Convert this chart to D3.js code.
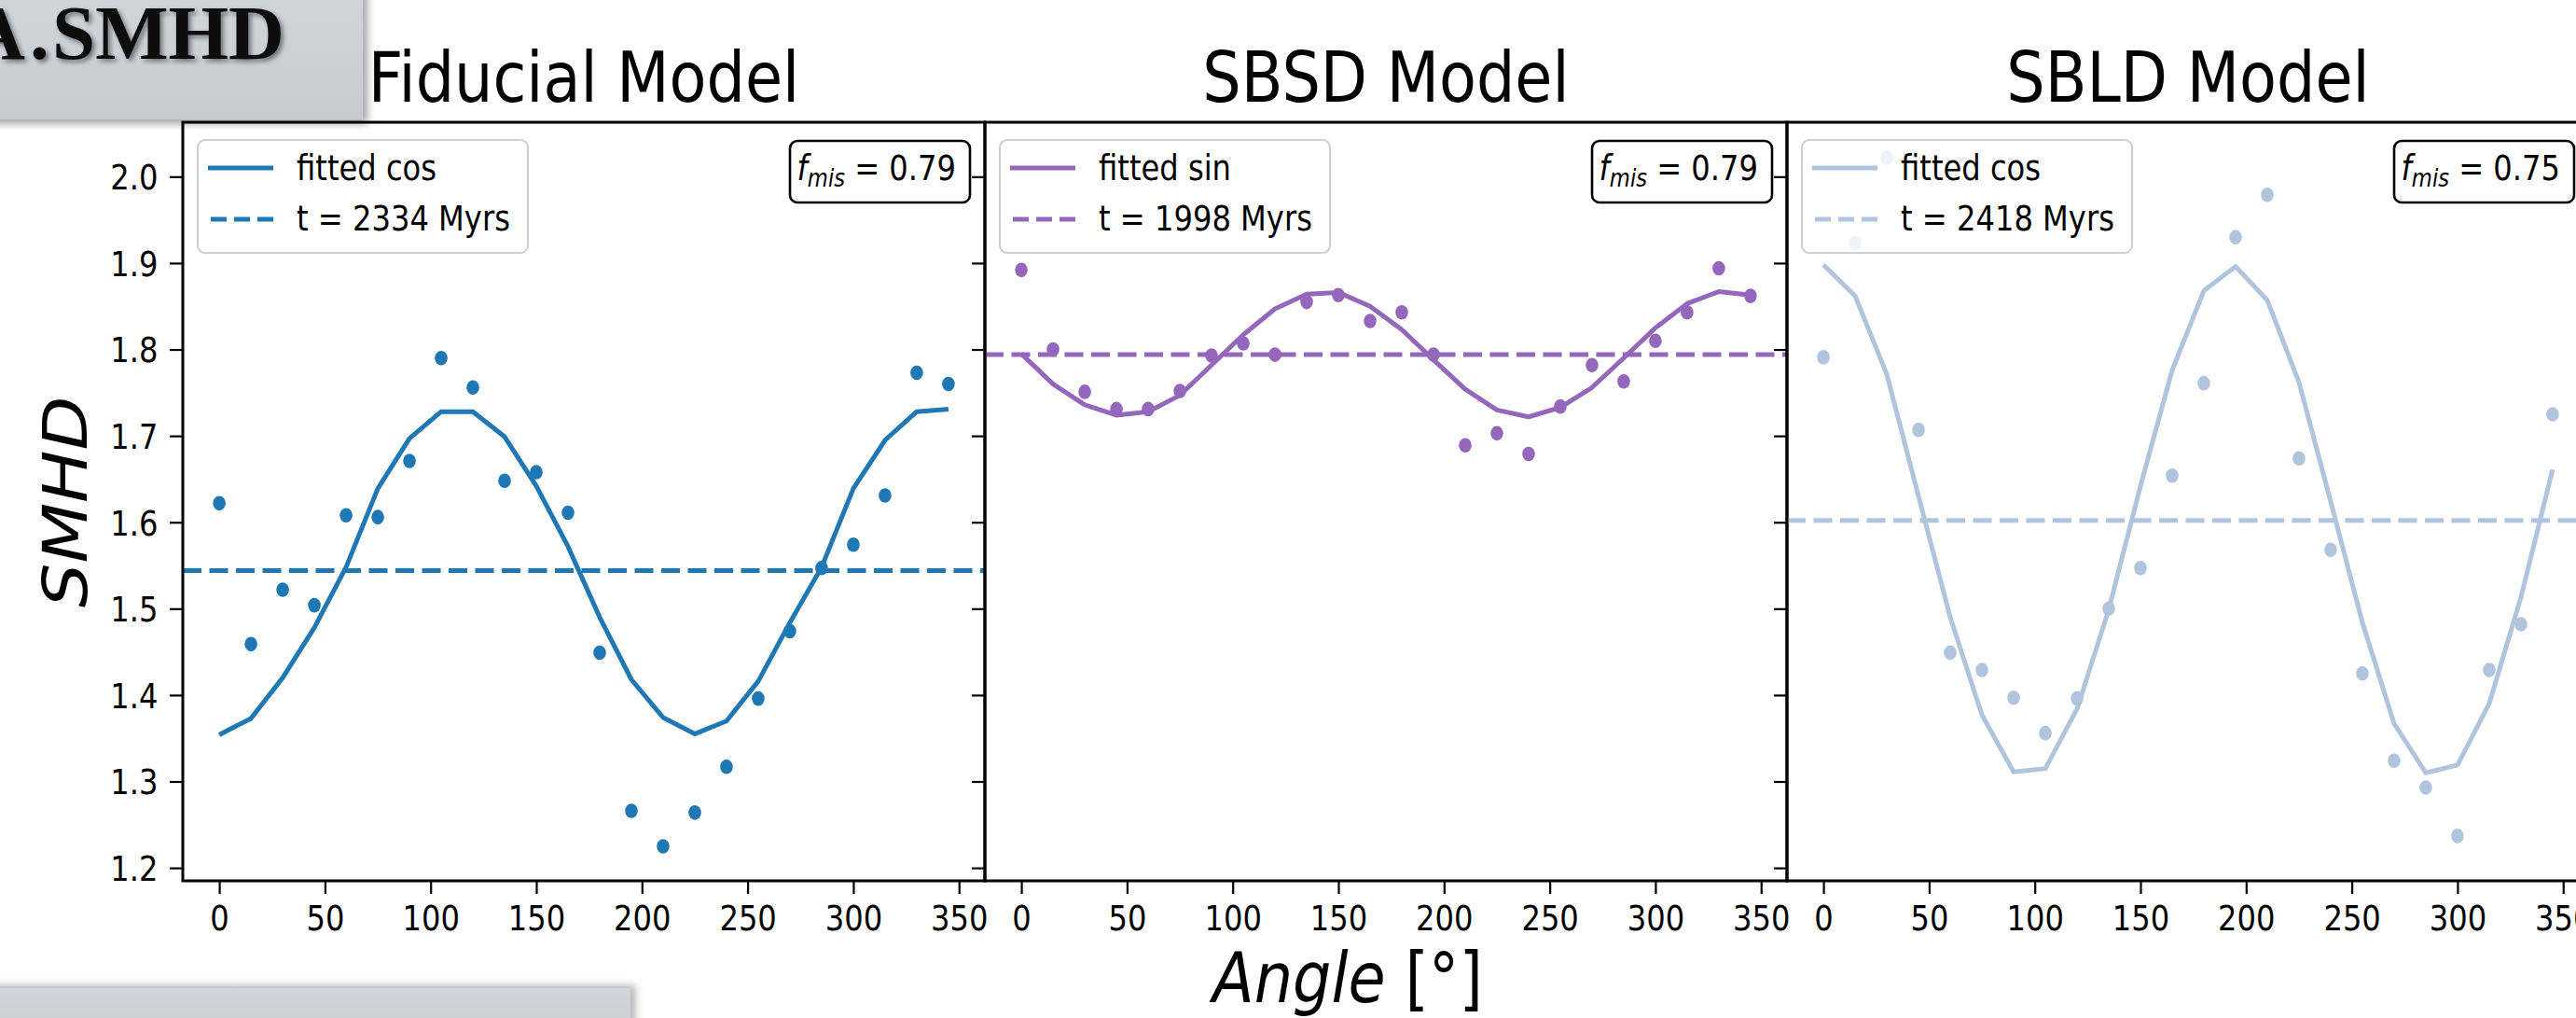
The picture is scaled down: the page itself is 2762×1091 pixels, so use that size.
<!DOCTYPE html>
<html>
<head>
<meta charset="utf-8">
<script src="https://cdn.jsdelivr.net/npm/d3@7"></script>
<style>
  html, body { margin: 0; padding: 0; background: #ffffff; }
  svg { display: block; }
</style>
</head>
<body>
<script>
// ---- data -------------------------------------------------------------
const angles = [0, 15, 30, 45, 60, 75, 90, 105, 120, 135, 150, 165,
                180, 195, 210, 225, 240, 255, 270, 285, 300, 315, 330, 345];

const panelTitles = ["Fiducial Model", "SBSD Model", "SBLD Model"];
const fitLabels   = ["fitted cos", "fitted sin", "fitted cos"];
const timeLabels  = ["t = 2334 Myrs", "t = 1998 Myrs", "t = 2418 Myrs"];
const fmisValues  = ["0.79", "0.79", "0.75"];
const meanLevels  = [1.544, 1.794, 1.602];

const fiducialPoints = [1.622, 1.459, 1.522, 1.504, 1.608, 1.606, 1.671, 1.790,
                        1.756, 1.648, 1.658, 1.611, 1.449, 1.266, 1.225, 1.264,
                        1.317, 1.396, 1.474, 1.547, 1.574, 1.631, 1.773, 1.760];
const fiducialFit    = [1.354, 1.373, 1.420, 1.478, 1.548, 1.639, 1.697, 1.728,
                        1.728, 1.699, 1.642, 1.572, 1.490, 1.418, 1.374, 1.355,
                        1.370, 1.416, 1.484, 1.548, 1.639, 1.695, 1.728, 1.731];

const sbsdPoints = [1.892, 1.800, 1.751, 1.731, 1.731, 1.752, 1.793, 1.807,
                    1.794, 1.855, 1.863, 1.833, 1.843, 1.794, 1.689, 1.703,
                    1.679, 1.734, 1.782, 1.763, 1.810, 1.843, 1.894, 1.862];
const sbsdFit    = [1.795, 1.760, 1.736, 1.724, 1.728, 1.747, 1.782, 1.817,
                    1.847, 1.864, 1.866, 1.850, 1.823, 1.788, 1.754, 1.730,
                    1.722, 1.733, 1.756, 1.790, 1.825, 1.853, 1.867, 1.863];

const sbldPoints = [1.791, 1.923, 2.022, 1.707, 1.449, 1.429, 1.397, 1.356,
                    1.396, 1.500, 1.547, 1.654, 1.761, 1.930, 1.979, 1.674,
                    1.568, 1.425, 1.324, 1.293, 1.237, 1.429, 1.482, 1.725];
const sbldFit    = [1.898, 1.862, 1.771, 1.630, 1.490, 1.377, 1.311, 1.315,
                    1.384, 1.499, 1.642, 1.776, 1.868, 1.896, 1.857, 1.762,
                    1.624, 1.484, 1.367, 1.310, 1.319, 1.390, 1.513, 1.661];

const xTicks = [0, 50, 100, 150, 200, 250, 300, 350];
const yTicks = [1.2, 1.3, 1.4, 1.5, 1.6, 1.7, 1.8, 1.9, 2.0];
const yTickLabels = ["1.2", "1.3", "1.4", "1.5", "1.6", "1.7", "1.8", "1.9", "2.0"];

const seriesPoints = [fiducialPoints, sbsdPoints, sbldPoints];
const seriesFit    = [fiducialFit, sbsdFit, sbldFit];
const seriesColors = ["#1f77b4", "#9467bd", "#b0c4de"];

// ---- layout -----------------------------------------------------------
const W = 2762, H = 1091;
const panelLeft = [196, 1056, 1916];
const panelW = 860;
const plotTop = 131, plotBottom = 944;
const SX = 0.87;               // horizontal squeeze applied to figure text
const FONT = "'DejaVu Sans', sans-serif";
const LW = 5;                  // line width of curves and mean levels
const DASH = "20,8.5";

const svg = d3.select("body").append("svg")
  .attr("width", W).attr("height", H)
  .attr("viewBox", `0 0 ${W} ${H}`);

const defs = svg.append("defs");
const shadow = defs.append("filter").attr("id", "boxShadow")
  .attr("x", "-10%").attr("y", "-30%").attr("width", "130%").attr("height", "160%");
shadow.append("feDropShadow").attr("dx", 5).attr("dy", 5)
  .attr("stdDeviation", 4).attr("flood-color", "#000").attr("flood-opacity", 0.35);
const shadowUp = defs.append("filter").attr("id", "boxShadowUp")
  .attr("x", "-10%").attr("y", "-60%").attr("width", "130%").attr("height", "200%");
shadowUp.append("feDropShadow").attr("dx", 5).attr("dy", -3)
  .attr("stdDeviation", 4).attr("flood-color", "#000").attr("flood-opacity", 0.3);
const textShadow = defs.append("filter").attr("id", "textShadow")
  .attr("x", "-10%").attr("y", "-20%").attr("width", "120%").attr("height", "150%");
textShadow.append("feDropShadow").attr("dx", 3).attr("dy", 3)
  .attr("stdDeviation", 2.5).attr("flood-color", "#000").attr("flood-opacity", 0.45);
const boxGrad = defs.append("linearGradient").attr("id", "boxGrad")
  .attr("x1", 0).attr("y1", 0).attr("x2", 0).attr("y2", 1);
boxGrad.append("stop").attr("offset", "0%").attr("stop-color", "#d2d6dc");
boxGrad.append("stop").attr("offset", "100%").attr("stop-color", "#c6cbd2");

// squeezed text helper: a group carrying the position and the squeeze
function sText(parent, x, y, opts = {}) {
  const g = parent.append("g")
    .attr("transform", `translate(${x},${y}) scale(${SX},1)` + (opts.rotate ? ` rotate(${opts.rotate})` : ""));
  return g.append("text")
    .attr("font-family", FONT)
    .attr("font-size", opts.size || 37)
    .attr("text-anchor", opts.anchor || "start")
    .attr("fill", "#000");
}

const y = d3.scaleLinear().domain([1.185, 2.063]).range([plotBottom, plotTop]);

panelLeft.forEach((L, i) => {
  const R = L + panelW;
  const color = seriesColors[i];
  const x = d3.scaleLinear().domain([-17.25, 362.25]).range([L, R]);
  const g = svg.append("g");

  // clip for the plotting area
  const clipId = `clip${i}`;
  defs.append("clipPath").attr("id", clipId)
    .append("rect").attr("x", L).attr("y", plotTop).attr("width", panelW).attr("height", plotBottom - plotTop);
  const plot = g.append("g").attr("clip-path", `url(#${clipId})`);

  // mean level (dashed)
  plot.append("line")
    .attr("x1", L).attr("x2", R)
    .attr("y1", y(meanLevels[i])).attr("y2", y(meanLevels[i]))
    .attr("stroke", color).attr("stroke-width", LW)
    .attr("stroke-dasharray", DASH);

  // fitted curve
  const line = d3.line().x((d, k) => x(angles[k])).y(d => y(d));
  plot.append("path").datum(seriesFit[i])
    .attr("d", line).attr("fill", "none")
    .attr("stroke", color).attr("stroke-width", LW)
    .attr("stroke-linejoin", "round");

  // measured points
  plot.selectAll("ellipse.pt").data(seriesPoints[i]).enter().append("ellipse")
    .attr("class", "pt")
    .attr("cx", (d, k) => x(angles[k])).attr("cy", d => y(d))
    .attr("rx", 6.8).attr("ry", 7.8)
    .attr("fill", color);

  // axes
  const xAxis = g.append("g").attr("transform", `translate(0,${plotBottom})`)
    .call(d3.axisBottom(x).tickValues(xTicks).tickSize(14).tickFormat(d3.format("d")));
  xAxis.select(".domain").remove();
  xAxis.selectAll(".tick line").attr("stroke-width", 2.2).attr("stroke", "#000");
  xAxis.selectAll(".tick text")
    .attr("y", 53).attr("dy", 0)
    .attr("transform", `scale(${SX},1)`)
    .attr("font-family", FONT).attr("font-size", 37).attr("fill", "#000");

  const yAxis = g.append("g").attr("transform", `translate(${L},0)`)
    .call(d3.axisLeft(y).tickValues(yTicks).tickSize(14)
      .tickFormat((d, k) => i === 0 ? yTickLabels[k] : ""));
  yAxis.select(".domain").remove();
  yAxis.selectAll(".tick line").attr("stroke-width", 2.2).attr("stroke", "#000");
  yAxis.selectAll(".tick text")
    .attr("x", -26.5 / SX).attr("dy", "0.36em")
    .attr("transform", `scale(${SX},1)`)
    .attr("font-family", FONT).attr("font-size", 37).attr("fill", "#000");

  // frame
  g.append("rect")
    .attr("x", L).attr("y", plotTop).attr("width", panelW).attr("height", plotBottom - plotTop)
    .attr("fill", "none").attr("stroke", "#000").attr("stroke-width", 3);

  // title
  sText(g, (L + R) / 2, 109, { size: 75, anchor: "middle" }).text(panelTitles[i]);

  // legend
  const lg = g.append("g");
  lg.append("rect")
    .attr("x", L + 16).attr("y", 150).attr("width", 354).attr("height", 121)
    .attr("rx", 8).attr("fill", "#ffffff").attr("fill-opacity", 0.8)
    .attr("stroke", "#d0d0d0").attr("stroke-width", 2.2);
  lg.append("line").attr("x1", L + 27).attr("x2", L + 97).attr("y1", 180).attr("y2", 180)
    .attr("stroke", color).attr("stroke-width", LW);
  lg.append("line").attr("x1", L + 30).attr("x2", L + 97).attr("y1", 235).attr("y2", 235)
    .attr("stroke", color).attr("stroke-width", LW).attr("stroke-dasharray", "17,8");
  sText(lg, L + 122, 193).text(fitLabels[i]);
  sText(lg, L + 122, 247).text(timeLabels[i]);

  // misalignment fraction box
  g.append("rect")
    .attr("x", R - 209).attr("y", 151).attr("width", 193).attr("height", 66)
    .attr("rx", 8).attr("fill", "#ffffff")
    .attr("stroke", "#000").attr("stroke-width", 2.6);
  const ft = sText(g, R - 31, 193, { anchor: "end" });
  ft.append("tspan").attr("font-style", "italic").text("f");
  ft.append("tspan").attr("font-style", "italic").attr("font-size", 26).attr("dy", 7).text("mis");
  ft.append("tspan").attr("dy", -7).text(" = " + fmisValues[i]);
});

// axis labels
const yl = sText(svg, 93, 538, { size: 75, anchor: "middle", rotate: -90 });
yl.attr("font-style", "italic").text("SMHD");

const xl = sText(svg, 1300, 1074, { size: 75, anchor: "start" });
xl.append("tspan").attr("font-style", "italic").text("Angle");
xl.append("tspan").text(" [°]");

// slide overlays: heading box and lower box
svg.append("rect").attr("x", -20).attr("y", -20).attr("width", 409).attr("height", 148)
  .attr("fill", "url(#boxGrad)").attr("filter", "url(#boxShadow)");
const head = svg.append("text")
  .attr("y", 63)
  .attr("font-family", "'Liberation Serif', 'Times New Roman', serif")
  .attr("font-weight", "bold").attr("font-size", 83)
  .attr("fill", "#111").attr("filter", "url(#textShadow)");
head.append("tspan").attr("x", -33).text("A");
head.append("tspan").attr("x", 32).text(".");
head.append("tspan").attr("x", 56).text("SMHD");

svg.append("rect").attr("x", -20).attr("y", 1059).attr("width", 696).attr("height", 60)
  .attr("fill", "url(#boxGrad)").attr("filter", "url(#boxShadowUp)");
</script>
</body>
</html>
